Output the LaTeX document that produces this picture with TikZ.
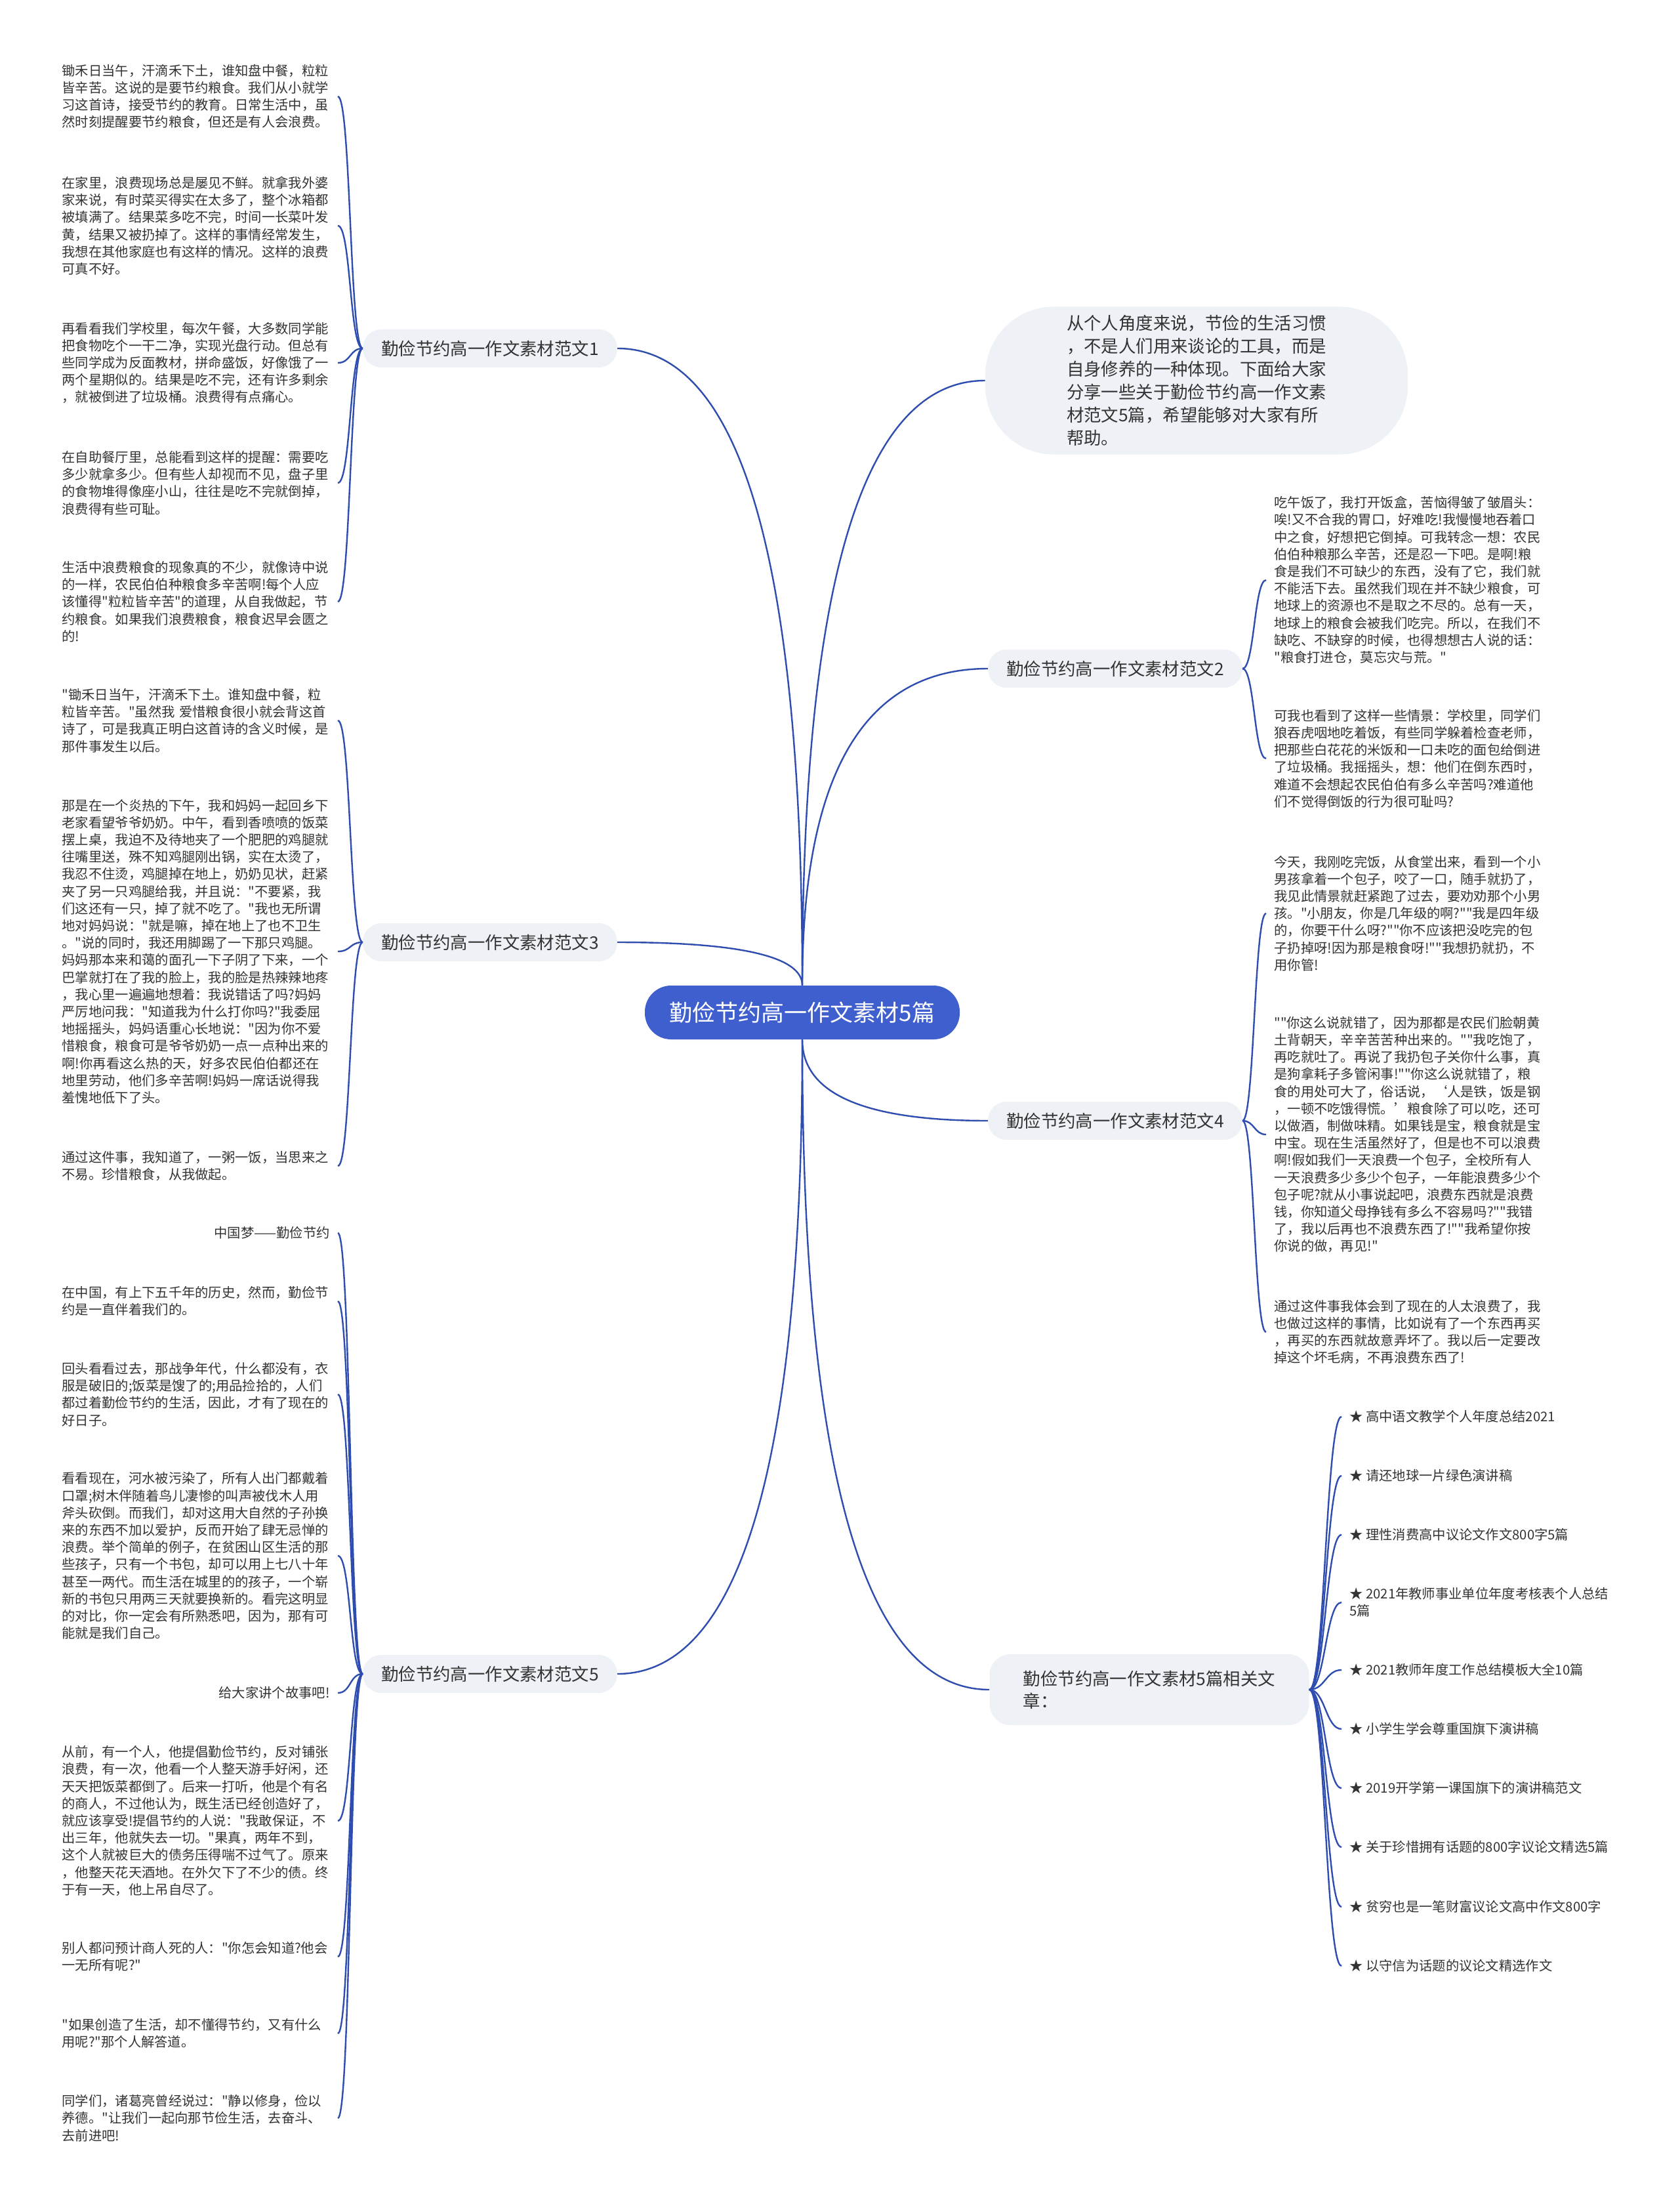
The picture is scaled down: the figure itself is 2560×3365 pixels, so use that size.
\documentclass[tikz,border=0pt]{standalone}
\usepackage{fontspec}
\setmainfont{Noto Sans CJK SC}[Ligatures=TeXOff]
\usepackage{tikz}
\usetikzlibrary{calc}
\definecolor{MMblue}{HTML}{3F5FCF}
\definecolor{MMline}{HTML}{2E4DAF}
\definecolor{MMpill}{HTML}{EEF1F6}
\definecolor{MMtext}{HTML}{333333}
\tikzset{
  mm/root/.style={fill=MMblue, text=white, rounded corners=20pt, minimum width=240pt, minimum height=41pt, inner xsep=10pt, font={\fontsize{17.5pt}{21pt}\selectfont}},
  mm/branch/.style={fill=MMpill, text=MMtext, rounded corners=14pt, minimum height=29pt, inner xsep=14pt, font={\fontsize{13.2pt}{17pt}\selectfont}},
  mm/intro/.style={mm/branch, align=left, rounded corners=52pt, minimum width=322pt, minimum height=112.5pt, font={\fontsize{13.2pt}{17.5pt}\selectfont}},
  mm/rel/.style={mm/branch, align=left, rounded corners=16pt, minimum width=243.5pt, minimum height=54pt},
  mm/leaf/.style={text=MMtext, align=left, inner xsep=6pt, inner ysep=1pt, font={\fontsize{10.15pt}{13.1pt}\selectfont}},
  mm/leafL/.style={mm/leaf, anchor=east, text width=204pt},
  mm/leafR/.style={mm/leaf, anchor=west},
  mm/link/.style={draw=MMline, line width=1.2pt},
  mm/trunk/.style={mm/link, to path={.. controls ($(\tikztostart)!0.667!(\tikztostart |- \tikztotarget)$) and ($(\tikztotarget)!0.667!(\tikztostart |- \tikztotarget)$) .. (\tikztotarget)}},
  mm/twigL/.style={mm/link, to path={.. controls +(-20,0) and +(20,0) .. (\tikztotarget)}},
  mm/twigR/.style={mm/link, to path={.. controls +(18,0) and +(-18,0) .. (\tikztotarget)}},
  mm/twigS/.style={mm/link, to path={.. controls +(24,0) and +(-24,0) .. (\tikztotarget)}}
}
\begin{document}
\begin{tikzpicture}[x=0.5pt, y=-0.5pt]
  \fill[white] (0,0) rectangle (2560,3365);
  \useasboundingbox (0,0) rectangle (2560,3365);

  % centre and main branches
  \node[mm/root] (root) at (1223,1543) {勤俭节约高一作文素材5篇};
  \node[mm/branch] (b1) at (747,531) {勤俭节约高一作文素材范文1};
  \node[mm/branch] (b3) at (747,1436) {勤俭节约高一作文素材范文3};
  \node[mm/branch] (b5) at (747,2551) {勤俭节约高一作文素材范文5};
  \node[mm/intro] (intro) at (1824,580) {从个人角度来说，节俭的生活习惯\\，不是人们用来谈论的工具，而是\\自身修养的一种体现。下面给大家\\分享一些关于勤俭节约高一作文素\\材范文5篇，希望能够对大家有所\\帮助。};
  \node[mm/branch] (b2) at (1700,1019) {勤俭节约高一作文素材范文2};
  \node[mm/branch] (b4) at (1700,1708) {勤俭节约高一作文素材范文4};
  \node[mm/rel] (rel) at (1752,2575) {勤俭节约高一作文素材5篇相关文\\章：};
  \draw[mm/trunk] (root.north) to (b1.east);
  \draw[mm/trunk] (root.north) to (b3.east);
  \draw[mm/trunk] (root.south) to (b5.east);
  \draw[mm/trunk] (root.north) to (intro.west);
  \draw[mm/trunk] (root.north) to (b2.west);
  \draw[mm/trunk] (root.south) to (b4.west);
  \draw[mm/trunk] (root.south) to (rel.west);

  % branch 1
  \node[mm/leafL] (l1a) at (515,147) {锄禾日当午，汗滴禾下土，谁知盘中餐，粒粒\\皆辛苦。这说的是要节约粮食。我们从小就学\\习这首诗，接受节约的教育。日常生活中，虽\\然时刻提醒要节约粮食，但还是有人会浪费。};
  \node[mm/leafL] (l1b) at (515,344) {在家里，浪费现场总是屡见不鲜。就拿我外婆\\家来说，有时菜买得实在太多了，整个冰箱都\\被填满了。结果菜多吃不完，时间一长菜叶发\\黄，结果又被扔掉了。这样的事情经常发生，\\我想在其他家庭也有这样的情况。这样的浪费\\可真不好。};
  \node[mm/leafL] (l1c) at (515,553) {再看看我们学校里，每次午餐，大多数同学能\\把食物吃个一干二净，实现光盘行动。但总有\\些同学成为反面教材，拼命盛饭，好像饿了一\\两个星期似的。结果是吃不完，还有许多剩余\\，就被倒进了垃圾桶。浪费得有点痛心。};
  \node[mm/leafL] (l1d) at (515,736) {在自助餐厅里，总能看到这样的提醒：需要吃\\多少就拿多少。但有些人却视而不见，盘子里\\的食物堆得像座小山，往往是吃不完就倒掉，\\浪费得有些可耻。};
  \node[mm/leafL] (l1e) at (515,917) {生活中浪费粮食的现象真的不少，就像诗中说\\的一样，农民伯伯种粮食多辛苦啊!每个人应\\该懂得"粒粒皆辛苦"的道理，从自我做起，节\\约粮食。如果我们浪费粮食，粮食迟早会匮之\\的!};
  \draw[mm/twigL] (b1.west) to (l1a.east);
  \draw[mm/twigL] (b1.west) to (l1b.east);
  \draw[mm/twigL] (b1.west) to (l1c.east);
  \draw[mm/twigL] (b1.west) to (l1d.east);
  \draw[mm/twigL] (b1.west) to (l1e.east);

  % branch 3
  \node[mm/leafL] (l3a) at (515,1098) {"锄禾日当午，汗滴禾下土。谁知盘中餐，粒\\粒皆辛苦。"虽然我 爱惜粮食很小就会背这首\\诗了，可是我真正明白这首诗的含义时候，是\\那件事发生以后。};
  \node[mm/leafL] (l3b) at (515,1450) {那是在一个炎热的下午，我和妈妈一起回乡下\\老家看望爷爷奶奶。中午，看到香喷喷的饭菜\\摆上桌，我迫不及待地夹了一个肥肥的鸡腿就\\往嘴里送，殊不知鸡腿刚出锅，实在太烫了，\\我忍不住烫，鸡腿掉在地上，奶奶见状，赶紧\\夹了另一只鸡腿给我，并且说："不要紧，我\\们这还有一只，掉了就不吃了。"我也无所谓\\地对妈妈说："就是嘛，掉在地上了也不卫生\\。"说的同时，我还用脚踢了一下那只鸡腿。\\妈妈那本来和蔼的面孔一下子阴了下来，一个\\巴掌就打在了我的脸上，我的脸是热辣辣地疼\\，我心里一遍遍地想着：我说错话了吗?妈妈\\严厉地问我："知道我为什么打你吗?"我委屈\\地摇摇头，妈妈语重心长地说："因为你不爱\\惜粮食，粮食可是爷爷奶奶一点一点种出来的\\啊!你再看这么热的天，好多农民伯伯都还在\\地里劳动，他们多辛苦啊!妈妈一席话说得我\\羞愧地低下了头。};
  \node[mm/leafL] (l3c) at (515,1777) {通过这件事，我知道了，一粥一饭，当思来之\\不易。珍惜粮食，从我做起。};
  \draw[mm/twigL] (b3.west) to (l3a.east);
  \draw[mm/twigL] (b3.west) to (l3b.east);
  \draw[mm/twigL] (b3.west) to (l3c.east);

  % branch 5
  \node[mm/leafL, align=right] (l5a) at (515,1879) {中国梦——勤俭节约};
  \node[mm/leafL] (l5b) at (515,1983) {在中国，有上下五千年的历史，然而，勤俭节\\约是一直伴着我们的。};
  \node[mm/leafL] (l5c) at (515,2125) {回头看看过去，那战争年代，什么都没有，衣\\服是破旧的;饭菜是馊了的;用品捡拾的，人们\\都过着勤俭节约的生活，因此，才有了现在的\\好日子。};
  \node[mm/leafL] (l5d) at (515,2371) {看看现在，河水被污染了，所有人出门都戴着\\口罩;树木伴随着鸟儿凄惨的叫声被伐木人用\\斧头砍倒。而我们，却对这用大自然的子孙换\\来的东西不加以爱护，反而开始了肆无忌惮的\\浪费。举个简单的例子，在贫困山区生活的那\\些孩子，只有一个书包，却可以用上七八十年\\甚至一两代。而生活在城里的的孩子，一个崭\\新的书包只用两三天就要换新的。看完这明显\\的对比，你一定会有所熟悉吧，因为，那有可\\能就是我们自己。};
  \node[mm/leafL, align=right] (l5e) at (515,2580) {给大家讲个故事吧!};
  \node[mm/leafL] (l5f) at (515,2775) {从前，有一个人，他提倡勤俭节约，反对铺张\\浪费，有一次，他看一个人整天游手好闲，还\\天天把饭菜都倒了。后来一打听，他是个有名\\的商人，不过他认为，既生活已经创造好了，\\就应该享受!提倡节约的人说："我敢保证，不\\出三年，他就失去一切。"果真，两年不到，\\这个人就被巨大的债务压得喘不过气了。原来\\，他整天花天酒地。在外欠下了不少的债。终\\于有一天，他上吊自尽了。};
  \node[mm/leafL] (l5g) at (515,2982) {别人都问预计商人死的人："你怎会知道?他会\\一无所有呢?"};
  \node[mm/leafL] (l5h) at (515,3099) {"如果创造了生活，却不懂得节约，又有什么\\用呢?"那个人解答道。};
  \node[mm/leafL] (l5i) at (515,3228) {同学们，诸葛亮曾经说过："静以修身，俭以\\养德。"让我们一起向那节俭生活，去奋斗、\\去前进吧!};
  \draw[mm/twigL] (b5.west) to (l5a.east);
  \draw[mm/twigL] (b5.west) to (l5b.east);
  \draw[mm/twigL] (b5.west) to (l5c.east);
  \draw[mm/twigL] (b5.west) to (l5d.east);
  \draw[mm/twigL] (b5.west) to (l5e.east);
  \draw[mm/twigL] (b5.west) to (l5f.east);
  \draw[mm/twigL] (b5.west) to (l5g.east);
  \draw[mm/twigL] (b5.west) to (l5h.east);
  \draw[mm/twigL] (b5.west) to (l5i.east);

  % branch 2
  \node[mm/leafR] (r2a) at (1930,884) {吃午饭了，我打开饭盒，苦恼得皱了皱眉头：\\唉!又不合我的胃口，好难吃!我慢慢地吞着口\\中之食，好想把它倒掉。可我转念一想：农民\\伯伯种粮那么辛苦，还是忍一下吧。是啊!粮\\食是我们不可缺少的东西，没有了它，我们就\\不能活下去。虽然我们现在并不缺少粮食，可\\地球上的资源也不是取之不尽的。总有一天，\\地球上的粮食会被我们吃完。所以，在我们不\\缺吃、不缺穿的时候，也得想想古人说的话：\\"粮食打进仓，莫忘灾与荒。"};
  \node[mm/leafR] (r2b) at (1930,1156) {可我也看到了这样一些情景：学校里，同学们\\狼吞虎咽地吃着饭，有些同学躲着检查老师，\\把那些白花花的米饭和一口未吃的面包给倒进\\了垃圾桶。我摇摇头，想：他们在倒东西时，\\难道不会想起农民伯伯有多么辛苦吗?难道他\\们不觉得倒饭的行为很可耻吗?};
  \draw[mm/twigR] (b2.east) to (r2a.west);
  \draw[mm/twigR] (b2.east) to (r2b.west);

  % branch 4
  \node[mm/leafR] (r4a) at (1930,1392) {今天，我刚吃完饭，从食堂出来，看到一个小\\男孩拿着一个包子，咬了一口，随手就扔了，\\我见此情景就赶紧跑了过去，要劝劝那个小男\\孩。"小朋友，你是几年级的啊?""我是四年级\\的，你要干什么呀?""你不应该把没吃完的包\\子扔掉呀!因为那是粮食呀!""我想扔就扔，不\\用你管!};
  \node[mm/leafR] (r4b) at (1930,1729) {""你这么说就错了，因为那都是农民们脸朝黄\\土背朝天，辛辛苦苦种出来的。""我吃饱了，\\再吃就吐了。再说了我扔包子关你什么事，真\\是狗拿耗子多管闲事!""你这么说就错了，粮\\食的用处可大了，俗话说，‘人是铁，饭是钢\\，一顿不吃饿得慌。’粮食除了可以吃，还可\\以做酒，制做味精。如果钱是宝，粮食就是宝\\中宝。现在生活虽然好了，但是也不可以浪费\\啊!假如我们一天浪费一个包子，全校所有人\\一天浪费多少多少个包子，一年能浪费多少个\\包子呢?就从小事说起吧，浪费东西就是浪费\\钱，你知道父母挣钱有多么不容易吗?""我错\\了，我以后再也不浪费东西了!""我希望你按\\你说的做，再见!"};
  \node[mm/leafR] (r4c) at (1930,2030) {通过这件事我体会到了现在的人太浪费了，我\\也做过这样的事情，比如说有了一个东西再买\\，再买的东西就故意弄坏了。我以后一定要改\\掉这个坏毛病，不再浪费东西了!};
  \draw[mm/twigR] (b4.east) to (r4a.west);
  \draw[mm/twigR] (b4.east) to (r4b.west);
  \draw[mm/twigR] (b4.east) to (r4c.west);

  % related articles
  \node[mm/leafR] (s1) at (2045,2159) {★ 高中语文教学个人年度总结2021};
  \node[mm/leafR] (s2) at (2045,2249) {★ 请还地球一片绿色演讲稿};
  \node[mm/leafR] (s3) at (2045,2339) {★ 理性消费高中议论文作文800字5篇};
  \node[mm/leafR] (s4) at (2045,2442) {★ 2021年教师事业单位年度考核表个人总结\\5篇};
  \node[mm/leafR] (s5) at (2045,2545) {★ 2021教师年度工作总结模板大全10篇};
  \node[mm/leafR] (s6) at (2045,2635) {★ 小学生学会尊重国旗下演讲稿};
  \node[mm/leafR] (s7) at (2045,2725) {★ 2019开学第一课国旗下的演讲稿范文};
  \node[mm/leafR] (s8) at (2045,2815) {★ 关于珍惜拥有话题的800字议论文精选5篇};
  \node[mm/leafR] (s9) at (2045,2906) {★ 贫穷也是一笔财富议论文高中作文800字};
  \node[mm/leafR] (s10) at (2045,2996) {★ 以守信为话题的议论文精选作文};
  \draw[mm/twigS] (rel.east) to (s1.west);
  \draw[mm/twigS] (rel.east) to (s2.west);
  \draw[mm/twigS] (rel.east) to (s3.west);
  \draw[mm/twigS] (rel.east) to (s4.west);
  \draw[mm/twigS] (rel.east) to (s5.west);
  \draw[mm/twigS] (rel.east) to (s6.west);
  \draw[mm/twigS] (rel.east) to (s7.west);
  \draw[mm/twigS] (rel.east) to (s8.west);
  \draw[mm/twigS] (rel.east) to (s9.west);
  \draw[mm/twigS] (rel.east) to (s10.west);
\end{tikzpicture}
\end{document}
